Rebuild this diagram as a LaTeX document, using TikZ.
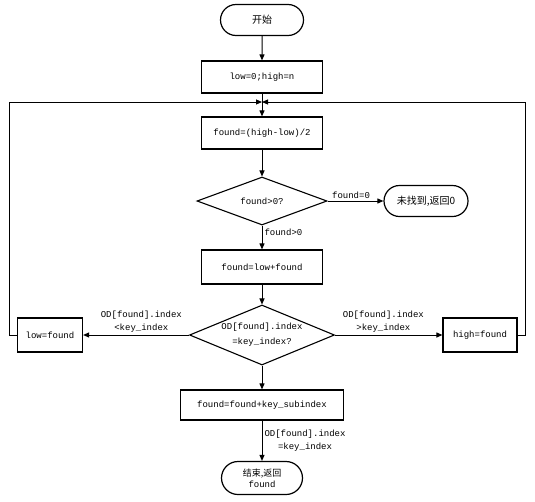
\documentclass[tikz,border=0pt]{standalone}
\usepackage{fontspec}
\setmonofont{Liberation Mono}
\newfontfamily\cjk{Noto Sans CJK SC}
\usetikzlibrary{arrows.meta,shapes.geometric,shapes.misc}
\begin{document}
\begin{tikzpicture}[x=1pt,y=-1pt,
  txt/.style={font=\ttfamily\fontsize{9}{13}\selectfont},
  proc/.style={draw, line width=1.2pt, rectangle, minimum width=121pt, minimum height=32pt, inner sep=0pt, txt},
  term/.style={draw, line width=1.2pt, rounded rectangle, minimum height=31pt, inner sep=0pt, align=center},
  dec/.style={draw, line width=1.1pt, diamond, inner sep=0pt},
  lbl/.style={txt, align=center, inner sep=2pt},
  arr/.style={line width=1pt, -{Triangle[length=6pt,width=5pt]}}]
\useasboundingbox (0,0) rectangle (535,501);

% nodes
\node[term, minimum width=83pt, font=\cjk\fontsize{10}{12}\selectfont] (start) at (262,20) {开始};
\node[proc] (init) at (262,77) {low=0;high=n};
\node[proc] (mid) at (262,133) {found=(high-low)/2};
\node[dec, minimum width=130pt, minimum height=48pt] (chk) at (262,201) {};
\node[lbl] (chktxt) at (chk) {found>0?};
\node[term, minimum width=84pt, font=\cjk\fontsize{10}{12}\selectfont] (nf) at (426,201) {未找到,返回0};
\node[proc, minimum height=34pt] (add) at (262,267) {found=low+found};
\node[dec, minimum width=145pt, minimum height=60pt] (cmp) at (262,335) {};
\node[lbl] (cmptxt) at (cmp) {OD[found].index\\[2pt]=key\_index?};
\node[proc, minimum width=65pt, minimum height=34pt] (low) at (50,335) {low=found};
\node[proc, minimum width=74pt, minimum height=34pt] (high) at (480,335) {high=found};
\node[proc, minimum width=163pt, minimum height=30pt] (sub) at (262,405) {found=found+key\_subindex};
\node[term, minimum width=81pt, minimum height=33pt, font=\fontsize{9}{12}\selectfont] (end) at (262,478) {{\cjk 结束,返回}\\[-1pt]{\ttfamily found}};
\coordinate (join) at (262,102);

% connectors
\draw[arr] (start) -- (init);
\draw[arr] (init) -- (mid);
\draw[arr] (mid) -- (chk.north);
\draw[arr] (chk.east) -- node[lbl, above, pos=0.42] {found=0} (nf.west);
\draw[arr] (chk.south) -- node[lbl, right, pos=0.3] {found>0} (add.north);
\draw[arr] (add) -- (cmp.north);
\draw[arr] (cmp.west) -- node[lbl, above, pos=0.45] {OD[found].index\\<key\_index} (low.east);
\draw[arr] (cmp.east) -- node[lbl, above, pos=0.45] {OD[found].index\\>key\_index} (high.west);
\draw[arr] (cmp.south) -- (sub.north);
\draw[arr] (sub.south) -- node[lbl, right, pos=0.5] {OD[found].index\\=key\_index} (end.north);
\draw[arr] (low.west) -- ++(-7,0) |- (join);
\draw[arr] (high.east) -- ++(8,0) |- (join);
\end{tikzpicture}
\end{document}
